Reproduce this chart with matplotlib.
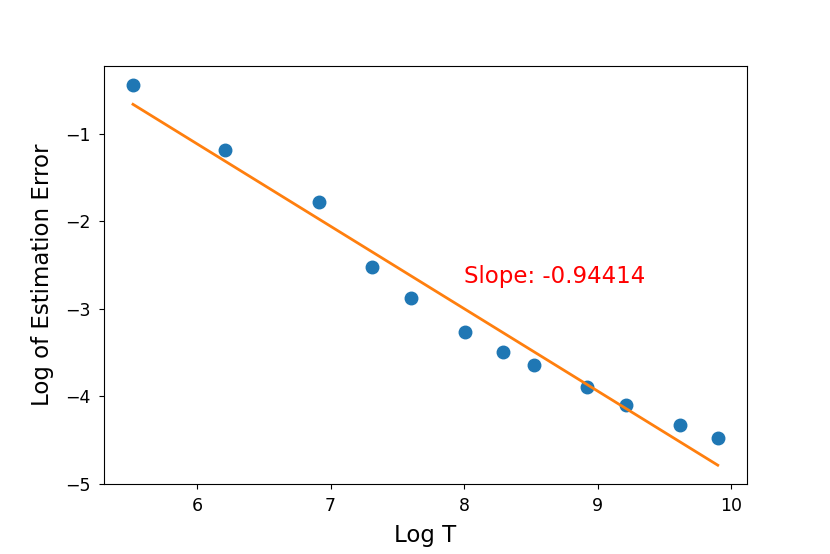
import matplotlib
matplotlib.use("Agg")
import matplotlib.pyplot as plt
import numpy as np

# log of sample size and log of estimation error
log_t = [5.52, 6.21, 6.91, 7.31, 7.60, 8.01, 8.29, 8.52, 8.92, 9.21, 9.62, 9.90]
log_err = [-0.44, -1.18, -1.78, -2.52, -2.88, -3.26, -3.49, -3.64, -3.90, -4.10, -4.33, -4.48]
slope_text = "Slope: -0.94414"

x = np.array(log_t)
y = np.array(log_err)
m, b = np.polyfit(x, y, 1)

fig, ax = plt.subplots(figsize=(8.3, 5.54), dpi=100)
fig.subplots_adjust(left=0.125, right=0.9, top=0.881, bottom=0.126)
ax.plot(x, y, "o", color="#1f77b4", markersize=9)
ax.plot(x, m * x + b, color="#ff7f0e", linewidth=2)
ax.text(8.0, -2.7, slope_text, color="red", fontsize=16.5)
ax.set_xlabel("Log T", fontsize=16.5, labelpad=6)
ax.set_ylabel("Log of Estimation Error", fontsize=16.5, labelpad=8)
ax.tick_params(labelsize=12.5, pad=6)
fig.savefig("out.png")
